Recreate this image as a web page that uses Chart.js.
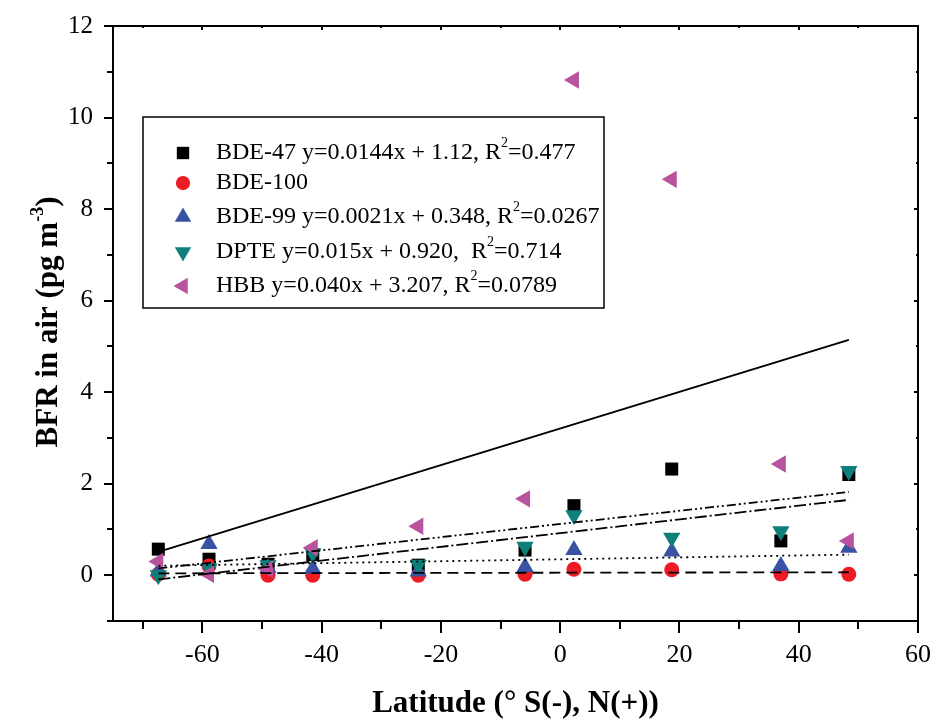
<!DOCTYPE html>
<html><head><meta charset="utf-8">
<script src="https://cdn.jsdelivr.net/npm/chart.js@4/dist/chart.umd.min.js"></script>
<style>html,body{margin:0;padding:0;background:#fff}</style>
</head><body>
<canvas id="c" width="937" height="725"></canvas>
<script>
// ---- data ----
const latitudes = [-67.4, -58.9, -49.0, -41.5, -23.8, -5.9, 2.3, 18.7, 37.0, 48.4];
const bde47  = [0.57, 0.35, 0.24, 0.45, 0.22, 0.55, 1.52, 2.32, 0.75, 2.20];
const bde100 = [0.02, 0.20, 0.00, 0.00, 0.00, 0.02, 0.13, 0.12, 0.03, 0.02];
const bde99  = [0.08, 0.68, 0.15, 0.14, 0.08, 0.18, 0.55, 0.52, 0.20, 0.60];
const dpte   = [0.00, 0.15, 0.22, 0.48, 0.23, 0.62, 1.31, 0.82, 0.96, 2.28];
const hbb    = [0.30, 0.02, 0.13, 0.60, 1.07, 1.67, 10.82, 8.65, 2.43, 0.75];

const seriesNames = ['BDE-47', 'BDE-100', 'BDE-99', 'DPTE', 'HBB'];
const legendMain = ['BDE-47 y=0.0144x + 1.12, R', 'BDE-100', 'BDE-99 y=0.0021x + 0.348, R', 'DPTE y=0.015x + 0.920,  R', 'HBB y=0.040x + 3.207, R'];
const legendTail = ['=0.477', '', '=0.0267', '=0.714', '=0.0789'];
const trendSlopes     = [0.0144, 0.0002, 0.0021, 0.015, 0.040];
const trendIntercepts = [1.12, 0.055, 0.348, 0.920, 3.207];

const xTicks = [-60, -40, -20, 0, 20, 40, 60];
const xMinorTicks = [-70, -50, -30, -10, 10, 30, 50];
const yTicks = [0, 2, 4, 6, 8, 10, 12];
const yMinorTicks = [-1, 1, 3, 5, 7, 9, 11];
const xTitle = 'Latitude (\u00B0 S(-), N(+))';
const yTitleMain = 'BFR in air (pg m';
const yTitleSup = '-3';
const yTitleEnd = ')';

// ---- styles ----
const seriesValues = [bde47, bde100, bde99, dpte, hbb];
const colors = ['#000000', '#ED1C24', '#3A52A4', '#0F7F7A', '#B9529F'];
const shapes = ['rect', 'circle', 'triangle', 'triangle', 'triangle'];
const rotations = [0, 0, 0, 180, -90];
const radii = [9.2, 7.5, 10, 10, 10];
const dashes = [[9, 3, 2, 3, 2, 3], [11, 6], [2, 4], [12, 3, 2, 3], []];
const serif = '"Liberation Serif", "Times New Roman", serif';

const latMin = Math.min(...latitudes), latMax = Math.max(...latitudes);
const datasets = [];
seriesValues.forEach((vals, i) => {
  datasets.push({
    type: 'scatter', label: seriesNames[i],
    data: latitudes.map((x, k) => ({x, y: vals[k]})),
    pointStyle: shapes[i], pointRotation: rotations[i], pointRadius: radii[i],
    pointBackgroundColor: colors[i], pointBorderWidth: 0, pointBorderColor: colors[i],
    order: 5 - i
  });
});
seriesValues.forEach((vals, i) => {
  datasets.push({
    type: 'line', label: seriesNames[i] + ' fit',
    data: [latMin, latMax].map(x => ({x, y: trendSlopes[i] * x + trendIntercepts[i]})),
    borderColor: '#000', borderWidth: i === 4 ? 2 : 1.8, borderDash: dashes[i],
    pointRadius: 0, fill: false, order: -1
  });
});

function drawMarker(ctx, shape, rot, r, x, y) {
  ctx.save(); ctx.translate(x, y); ctx.rotate(rot * Math.PI / 180);
  ctx.beginPath();
  if (shape === 'rect') { const s = Math.SQRT1_2 * r; ctx.rect(-s, -s, 2 * s, 2 * s); }
  else if (shape === 'circle') { ctx.arc(0, 0, r, 0, Math.PI * 2); }
  else { for (let k = 0; k < 3; k++) { const a = k * 2 * Math.PI / 3; const px = Math.sin(a) * r, py = -Math.cos(a) * r; k ? ctx.lineTo(px, py) : ctx.moveTo(px, py); } ctx.closePath(); }
  ctx.fill(); ctx.restore();
}

const decor = {
  id: 'decor',
  afterDraw(chart) {
    const {ctx, chartArea: a, scales: {x, y}} = chart;
    ctx.save();
    ctx.strokeStyle = '#000'; ctx.lineWidth = 2; ctx.lineCap = 'butt';
    const ln = (x1, y1, x2, y2) => { ctx.beginPath(); ctx.moveTo(x1, y1); ctx.lineTo(x2, y2); ctx.stroke(); };
    ln(a.left - 1, a.top, a.right, a.top);
    ln(a.right, a.top - 1, a.right, a.bottom);
    xTicks.forEach(v => { const p = Math.round(x.getPixelForValue(v)); ln(p, a.bottom, p, a.bottom + 12); ln(p, a.top, p, a.top + 4); });
    xMinorTicks.forEach(v => { const p = Math.round(x.getPixelForValue(v)); ln(p, a.bottom, p, a.bottom + 8); ln(p, a.top, p, a.top + 2); });
    yTicks.forEach(v => { const p = Math.round(y.getPixelForValue(v)); ln(a.left - 9, p, a.left, p); ln(a.right - 4, p, a.right, p); });
    yMinorTicks.forEach(v => { const p = Math.round(y.getPixelForValue(v)); ln(a.left - 6, p, a.left, p); ln(a.right - 2, p, a.right, p); });

    // legend
    ctx.lineWidth = 1.5;
    ctx.strokeRect(143, 117, 461, 191);
    const rows = [153, 183, 217, 252, 286];
    ctx.textBaseline = 'middle'; ctx.textAlign = 'left';
    rows.forEach((ry, i) => {
      ctx.fillStyle = colors[i];
      drawMarker(ctx, shapes[i], rotations[i], radii[i] * 0.95, 183, ry);
      ctx.fillStyle = '#000';
      ctx.font = '24px ' + serif;
      ctx.fillText(legendMain[i], 216, ry);
      if (legendTail[i]) {
        let w = ctx.measureText(legendMain[i]).width;
        ctx.font = '14px ' + serif;
        ctx.fillText('2', 216 + w, ry - 10);
        const w2 = ctx.measureText('2').width;
        ctx.font = '24px ' + serif;
        ctx.fillText(legendTail[i], 216 + w + w2, ry);
      }
    });

    // y title
    ctx.save();
    ctx.translate(57, 322); ctx.rotate(-Math.PI / 2);
    ctx.textBaseline = 'alphabetic';
    const fMain = 'bold 31px ' + serif, fSup = 'bold 18px ' + serif;
    ctx.font = fMain; const w1 = ctx.measureText(yTitleMain).width; const w3 = ctx.measureText(yTitleEnd).width;
    ctx.font = fSup; const w2 = ctx.measureText(yTitleSup).width;
    let sx = -(w1 + w2 + w3) / 2;
    ctx.fillStyle = '#000';
    ctx.font = fMain; ctx.fillText(yTitleMain, sx, 0);
    ctx.font = fSup; ctx.fillText(yTitleSup, sx + w1, -14);
    ctx.font = fMain; ctx.fillText(yTitleEnd, sx + w1 + w2, 0);
    ctx.restore();
    ctx.restore();
  }
};

new Chart(document.getElementById('c'), {
  data: {datasets},
  options: {
    responsive: false, animation: false, devicePixelRatio: 1,
    layout: {padding: {left: 0, top: 26, right: 19, bottom: 0}},
    plugins: {legend: {display: false}, tooltip: {enabled: false}},
    scales: {
      x: {
        type: 'linear', min: -75, max: 60,
        afterFit: s => { s.height = 104; s.paddingLeft = 0; s.paddingRight = 0; },
        afterBuildTicks: s => { s.ticks = xTicks.map(v => ({value: v})); },
        grid: {display: false},
        border: {display: true, color: '#000', width: 2},
        ticks: {color: '#000', font: {family: serif, size: 26}, padding: 11, maxRotation: 0, autoSkip: false},
        title: {display: true, text: xTitle, color: '#000', font: {family: serif, size: 31, weight: 'bold'}, padding: {top: 0, bottom: 2}}
      },
      y: {
        type: 'linear', min: -1, max: 12,
        afterFit: s => { s.width = 113; s.paddingTop = 0; s.paddingBottom = 0; },
        afterBuildTicks: s => { s.ticks = yTicks.map(v => ({value: v})); },
        grid: {display: false},
        border: {display: true, color: '#000', width: 2},
        ticks: {color: '#000', font: {family: serif, size: 25}, padding: 12}
      }
    }
  },
  plugins: [decor]
});
</script>
</body></html>
